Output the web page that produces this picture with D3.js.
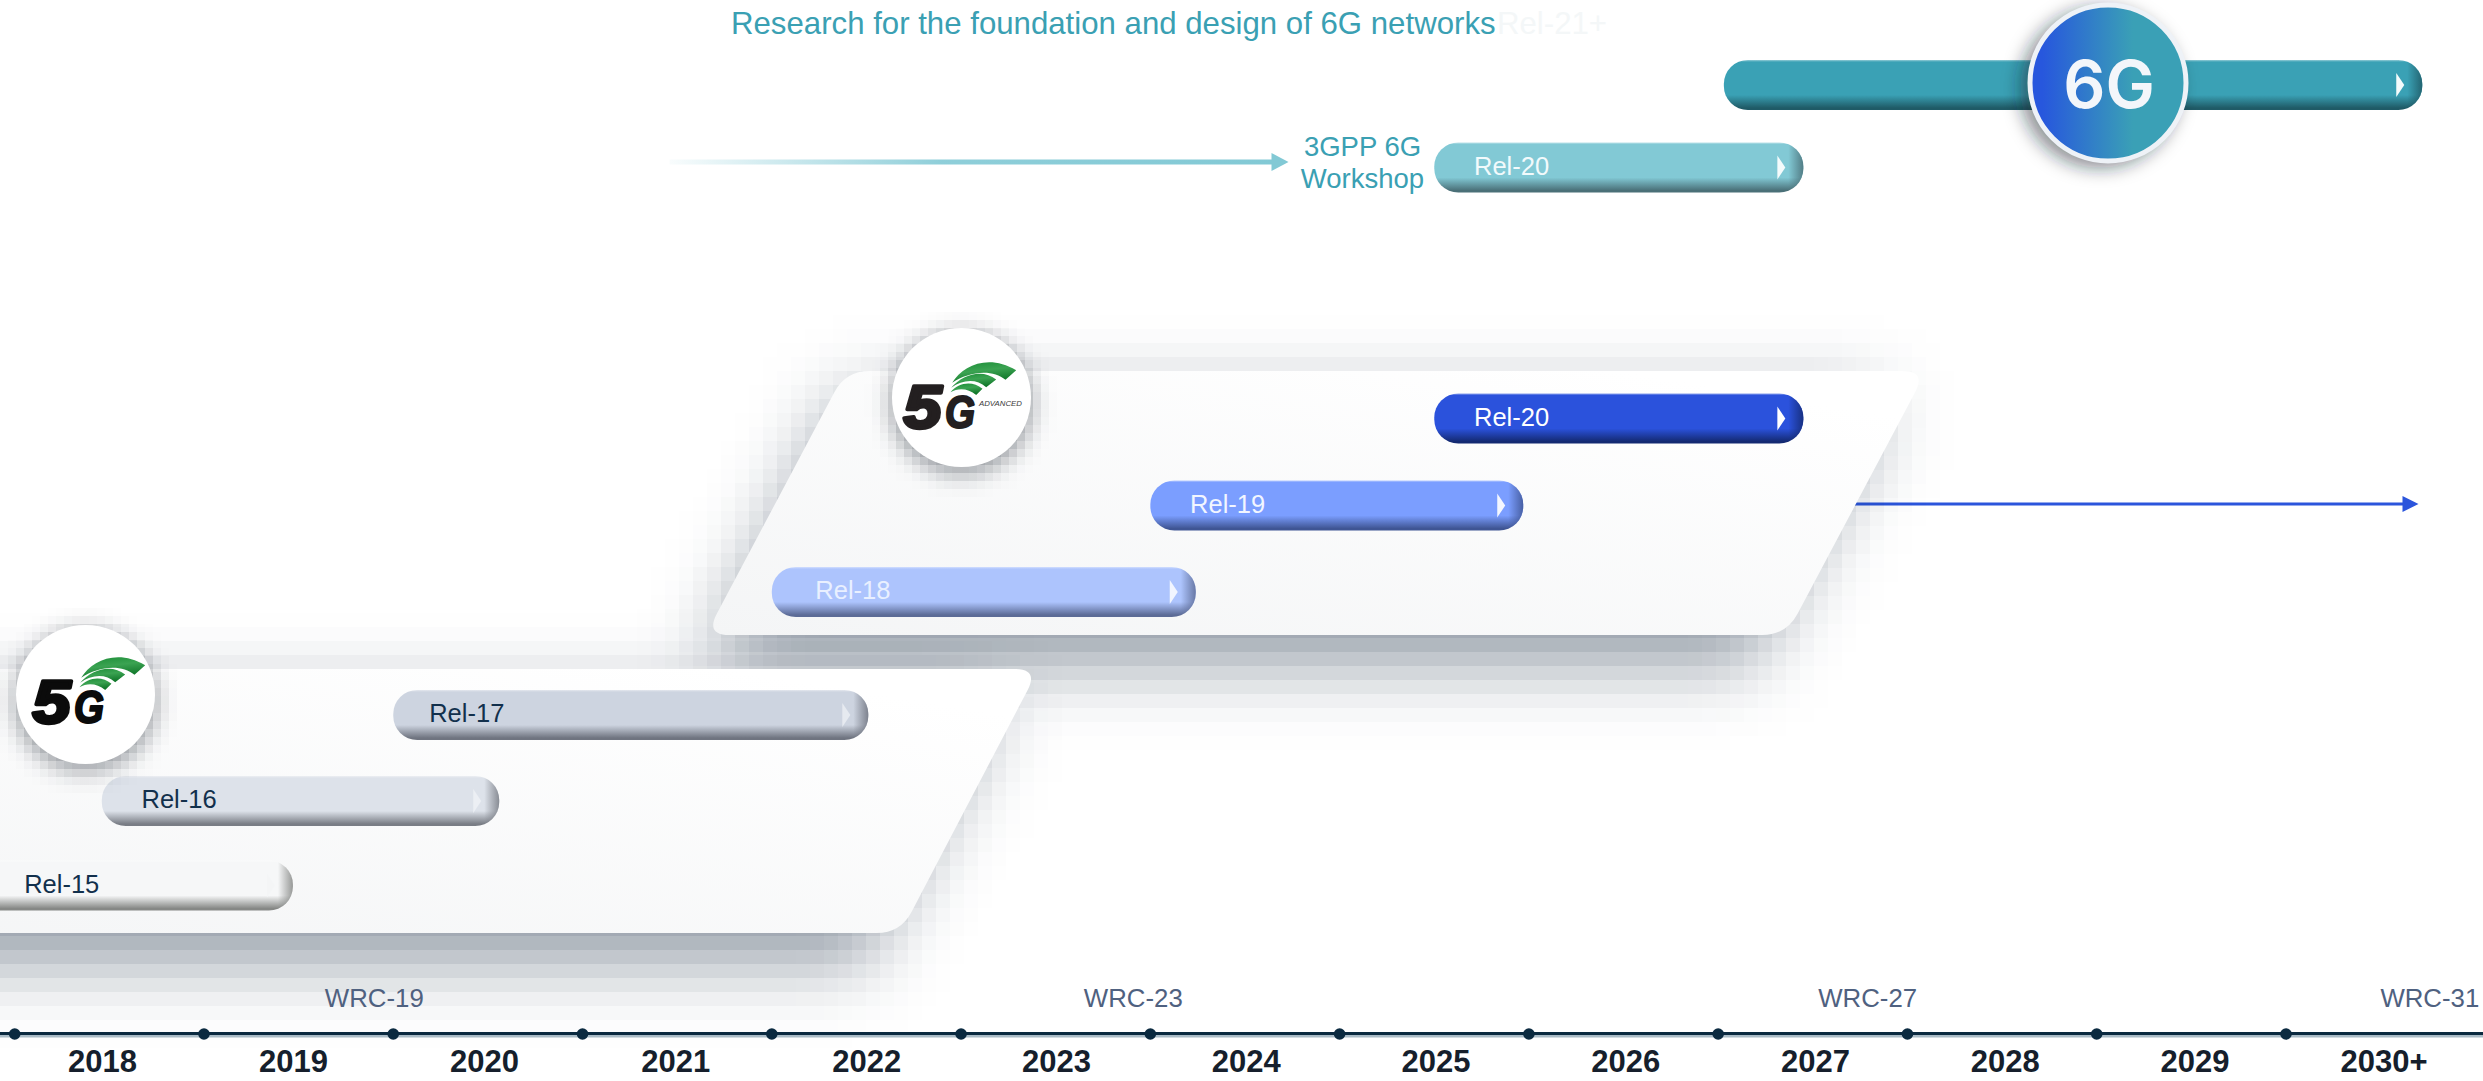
<!DOCTYPE html>
<html>
<head>
<meta charset="utf-8">
<script src="https://cdn.jsdelivr.net/npm/d3@7"></script>
<style>
  html, body { margin: 0; padding: 0; background: #fff; overflow: hidden; }
  svg { display: block; font-family: "Liberation Sans", Arial, sans-serif; }
</style>
</head>
<body>
<div id="chart"></div>
<script>
// years on the axis
const years = ["2018", "2019", "2020", "2021", "2022", "2023", "2024", "2025", "2026", "2027", "2028", "2029", "2030+"];
const boundaries = [2018, 2019, 2020, 2021, 2022, 2023, 2024, 2025, 2026, 2027, 2028, 2029, 2030];

// release bars (fractions of a year)
const barKeys = ["6g", "rel20t", "rel20", "rel19", "rel18", "rel17", "rel16", "rel15"];
const barLabels = ["", "Rel-20", "Rel-20", "Rel-19", "Rel-18", "Rel-17", "Rel-16", "Rel-15"];
const barStart = [2027.03, 2025.5, 2025.5, 2024.0, 2022.0, 2020.0, 2018.46, 2017.7];
const barEnd = [2030.72, 2027.45, 2027.45, 2025.97, 2024.24, 2022.51, 2020.56, 2019.47];
const barLabelAt = [2027.2, 2025.71, 2025.71, 2024.21, 2022.23, 2020.19, 2018.67, 2018.05];

const wrcLabels = ["WRC-19", "WRC-23", "WRC-27", "WRC-31"];
const wrcAt = [2019.9, 2023.91, 2027.79, 2030.76];

// panels behind the 5G bars: top-left, top-right, bottom-right, bottom-left
const panelAdvanced = [2022.39, 2028.1, 2027.36, 2021.65];
const panel5g = [2016.87, 2023.41, 2022.68, 2016.87];
// the shadows stop short of the panels' right edge
const shadowAdvanced = [2022.39, 2027.9, 2027.16, 2021.65];
const shadow5g = [2016.87, 2023.21, 2022.48, 2016.87];

const workshopArrow = [2021.46, 2024.73];
const advancedArrow = [2026.5, 2030.7];

const width = 2483, height = 1081;

const x = d3.scaleLinear().domain([2018, 2030]).range([14.7, 2286]);
// the year labels are not evenly spaced in the reference
const yearX = d3.scaleLinear().domain([0, 4, 11, 12]).range([102.5, 866.7, 2195, 2384]);
const rowY = d3.scaleOrdinal().domain(barKeys).range([85, 167.5, 418.5, 505.5, 592, 715, 801, 885.5]);

const barFill = d3.scaleOrdinal().domain(barKeys)
  .range(["#3aa1b5", "#82c9d5", "#2b52dc", "#7b9eff", "#adc4fd", "#cdd4e0", "#dde2ea", "#f6f7f8"]);
const barShade = d3.scaleOrdinal().domain(barKeys)
  .range(["#1f5a66", "#4a7078", "#142a72", "#3f5594", "#5c6b96", "#6f7480", "#797d85", "#868886"]);
const textFill = d3.scaleOrdinal().domain(barKeys)
  .range(["#fff", "#f2fafc", "#fff", "#f2f6ff", "#e9f0ff", "#12304c", "#12304c", "#12304c"]);
const chevronFill = d3.scaleOrdinal().domain(barKeys)
  .range(["#f4fbfc", "#f4fbfc", "#fff", "#f4f7ff", "#f1f5ff", "#e6eaf0", "#eceff4", "#f4f5f6"]);

const barH = 50;

const svg = d3.select("#chart").append("svg")
  .attr("width", width)
  .attr("height", height)
  .attr("viewBox", [0, 0, width, height]);
const defs = svg.append("defs");

// blurred shadow sampled on a coarse grid, the reference has blocky shadows
function pixelFilter(id, blur, step, ox, oy) {
  const f = defs.append("filter").attr("id", id)
    .attr("filterUnits", "userSpaceOnUse")
    .attr("primitiveUnits", "userSpaceOnUse")
    .attr("color-interpolation-filters", "sRGB")
    .attr("x", ox).attr("y", oy)
    .attr("width", width + step * 2).attr("height", height + step * 2);
  f.append("feGaussianBlur").attr("in", "SourceGraphic").attr("stdDeviation", blur).attr("result", "b");
  f.append("feFlood").attr("x", ox + Math.floor(step / 2)).attr("y", oy + Math.floor(step / 2))
    .attr("width", 1).attr("height", 1).attr("flood-color", "#000");
  f.append("feComposite").attr("x", ox).attr("y", oy).attr("width", step).attr("height", step);
  f.append("feTile").attr("x", ox).attr("y", oy).attr("width", width + step * 2).attr("height", height + step * 2).attr("result", "t");
  f.append("feComposite").attr("in", "b").attr("in2", "t").attr("operator", "in");
  f.append("feMorphology").attr("operator", "dilate").attr("radius", Math.floor(step / 2));
}
pixelFilter("pix5g", 36, 14, -3, -3);
pixelFilter("pixAdv", 36, 14, -7, -7);
pixelFilter("pixLogo", 11, 8, 0, 0);

const soft = defs.append("filter").attr("id", "soft6g")
  .attr("x", "-40%").attr("y", "-40%").attr("width", "180%").attr("height", "180%");
soft.append("feGaussianBlur").attr("stdDeviation", 9);

const panelFill = defs.append("linearGradient").attr("id", "panelFill")
  .attr("x1", 0).attr("y1", 1).attr("x2", 0.75).attr("y2", 0);
panelFill.append("stop").attr("offset", 0).attr("stop-color", "#f4f5f6");
panelFill.append("stop").attr("offset", 1).attr("stop-color", "#fff");

const fadeArrow = defs.append("linearGradient").attr("id", "fadeArrow");
fadeArrow.append("stop").attr("offset", 0).attr("stop-color", "#82c9d5").attr("stop-opacity", 0.05);
fadeArrow.append("stop").attr("offset", 0.45).attr("stop-color", "#82c9d5").attr("stop-opacity", 0.9);
fadeArrow.append("stop").attr("offset", 1).attr("stop-color", "#82c9d5");

const badge = defs.append("linearGradient").attr("id", "badge6g");
badge.append("stop").attr("offset", 0.08).attr("stop-color", "#2757dd");
badge.append("stop").attr("offset", 0.66).attr("stop-color", "#3aa0b6");

const wingFill = defs.append("linearGradient").attr("id", "wing")
  .attr("x1", 0).attr("y1", 0).attr("x2", 0.35).attr("y2", 1);
wingFill.append("stop").attr("offset", 0).attr("stop-color", "#1a8c36");
wingFill.append("stop").attr("offset", 0.5).attr("stop-color", "#3ba352");
wingFill.append("stop").attr("offset", 1).attr("stop-color", "#12782b");

// parallelogram with rounded corners
function panelPath(xs, top, bottom, r) {
  const pts = [[x(xs[0]), top], [x(xs[1]), top], [x(xs[2]), bottom], [x(xs[3]), bottom]];
  let d = "";
  pts.forEach((p, i) => {
    const prev = pts[(i + 3) % 4], next = pts[(i + 1) % 4];
    const a = Math.hypot(prev[0] - p[0], prev[1] - p[1]);
    const b = Math.hypot(next[0] - p[0], next[1] - p[1]);
    const p1 = [p[0] + (prev[0] - p[0]) * r / a, p[1] + (prev[1] - p[1]) * r / a];
    const p2 = [p[0] + (next[0] - p[0]) * r / b, p[1] + (next[1] - p[1]) * r / b];
    d += (i === 0 ? "M" : "L") + p1[0] + "," + p1[1] + "Q" + p[0] + "," + p[1] + " " + p2[0] + "," + p2[1];
  });
  return d + "Z";
}

// arrow lines go under the panel
const advY = rowY("rel19") - 1.5;
svg.append("rect")
  .attr("x", x(advancedArrow[0])).attr("y", advY - 1.5)
  .attr("width", x(advancedArrow[1]) - x(advancedArrow[0]) - 12).attr("height", 3)
  .attr("fill", "#2b55dc");
svg.append("path")
  .attr("d", d3.line()([[x(advancedArrow[1]) - 16, advY - 8], [x(advancedArrow[1]), advY], [x(advancedArrow[1]) - 16, advY + 8]]) + "Z")
  .attr("fill", "#2b55dc");

const wsY = rowY("rel20t") - 5.5;
svg.append("rect")
  .attr("x", x(workshopArrow[0])).attr("y", wsY - 2.5)
  .attr("width", x(workshopArrow[1]) - x(workshopArrow[0]) - 15).attr("height", 5)
  .attr("fill", "url(#fadeArrow)");
svg.append("path")
  .attr("d", d3.line()([[x(workshopArrow[1]) - 17, wsY - 9], [x(workshopArrow[1]), wsY], [x(workshopArrow[1]) - 17, wsY + 9]]) + "Z")
  .attr("fill", "#82c9d5");

// shadows then panels
const shadowDy = 28;
svg.append("g").attr("filter", "url(#pix5g)")
  .append("path").attr("d", panelPath(shadow5g, 669 + shadowDy, 933 + shadowDy, 0))
  .attr("fill", "#0a1f37").attr("fill-opacity", 0.46);
svg.append("g").attr("filter", "url(#pixAdv)")
  .append("path").attr("d", panelPath(shadowAdvanced, 371 + shadowDy, 635 + shadowDy, 0))
  .attr("fill", "#0a1f37").attr("fill-opacity", 0.46);
svg.append("path").attr("d", panelPath(panelAdvanced, 371, 635, 24)).attr("fill", "url(#panelFill)");
svg.append("path").attr("d", panelPath(panel5g, 669, 933, 24)).attr("fill", "url(#panelFill)");

// bars
const bars = barKeys.map((k, i) => ({ key: k, label: barLabels[i], start: barStart[i], end: barEnd[i], labelAt: barLabelAt[i] }));

bars.forEach(d => {
  const v = defs.append("linearGradient").attr("id", "v-" + d.key)
    .attr("x1", 0).attr("y1", 0).attr("x2", 0).attr("y2", 1);
  v.append("stop").attr("offset", 0).attr("stop-color", d3.interpolateRgb(barFill(d.key), "#fff")(0.45));
  v.append("stop").attr("offset", 0.04).attr("stop-color", barFill(d.key));
  v.append("stop").attr("offset", 0.7).attr("stop-color", barFill(d.key));
  v.append("stop").attr("offset", 0.96).attr("stop-color", barShade(d.key));
  const w = x(d.end) - x(d.start);
  const h = defs.append("linearGradient").attr("id", "h-" + d.key);
  h.append("stop").attr("offset", 1 - 15 / w).attr("stop-color", barShade(d.key)).attr("stop-opacity", 0);
  h.append("stop").attr("offset", 1).attr("stop-color", barShade(d.key)).attr("stop-opacity", 0.85);
});

const barG = svg.append("g").selectAll("g").data(bars).join("g");
barG.append("rect")
  .attr("x", d => x(d.start))
  .attr("y", d => rowY(d.key) - barH / 2)
  .attr("width", d => x(d.end) - x(d.start))
  .attr("height", barH).attr("rx", 24).attr("ry", 24)
  .attr("fill", d => `url(#v-${d.key})`);
barG.append("rect")
  .attr("x", d => x(d.start))
  .attr("y", d => rowY(d.key) - barH / 2)
  .attr("width", d => x(d.end) - x(d.start))
  .attr("height", barH).attr("rx", 24).attr("ry", 24)
  .attr("fill", d => `url(#h-${d.key})`);
barG.append("path")
  .attr("d", d => {
    const e = x(d.end), c = rowY(d.key);
    return d3.line()([[e - 26, c - 12], [e - 18, c], [e - 26, c + 12]]) + "Z";
  })
  .attr("fill", d => chevronFill(d.key));
barG.append("text")
  .attr("x", d => x(d.labelAt))
  .attr("y", d => rowY(d.key) + 7)
  .attr("font-size", 25.5)
  .attr("fill", d => textFill(d.key))
  .text(d => d.label);

// 5G logos, drawn around the circle centre
function logo(cx, cy, advanced) {
  const g = svg.append("g");
  g.append("g").attr("filter", "url(#pixLogo)")
    .append("circle").attr("cx", cx).attr("cy", cy + 6).attr("r", 70)
    .attr("fill", "#0a1420").attr("fill-opacity", 0.42);
  g.append("circle").attr("cx", cx).attr("cy", cy).attr("r", 69.5).attr("fill", "#fff");
  const m = g.append("g").attr("transform", `translate(${cx + (advanced ? -5 : 0)},${cy + (advanced ? 2 : 0)})`);
  const ink = advanced ? "#231f20" : "#0b0b0b";
  m.append("text").attr("x", -53).attr("y", 28.5)
    .attr("font-size", 62).attr("font-weight", 700).attr("font-style", "italic")
    .attr("textLength", 38).attr("lengthAdjust", "spacingAndGlyphs")
    .attr("fill", ink).attr("stroke", ink).attr("stroke-width", 3.6).attr("stroke-linejoin", "round")
    .text("5");
  m.append("text").attr("x", -11.5).attr("y", 28.5)
    .attr("font-size", 46).attr("font-weight", 700).attr("font-style", "italic")
    .attr("textLength", 30).attr("lengthAdjust", "spacingAndGlyphs")
    .attr("fill", ink).attr("stroke", ink).attr("stroke-width", 2.2).attr("stroke-linejoin", "round")
    .text("G");
  const wings = [
    "M-4.3,-16.7C6,-34 32,-46 59.7,-29.3L49,-19.7C36,-31 12,-28 -4.3,-16.7Z",
    "M-5.3,-11.7C6,-25 26,-31 39.7,-20L29.7,-12.3C20,-21 6,-20 -5.3,-11.7Z",
    "M-6,-7.3C2,-17 16,-19 26,-10.7L19.7,-4.5C12,-11 2,-12 -6,-7.3Z"
  ];
  m.selectAll("path").data(wings).join("path")
    .attr("d", d => d)
    .attr("fill", "url(#wing)");
  if (advanced) {
    m.append("text").attr("x", 22.5).attr("y", 6.5)
      .attr("font-size", 7.8).attr("font-style", "italic").attr("fill", "#3a3a3a")
      .text("ADVANCED");
  }
}
logo(961.5, 397.5, true);
logo(85.5, 694.5, false);

// 6G badge
svg.append("circle").attr("cx", 2100).attr("cy", 88).attr("r", 80)
  .attr("fill", "#10202c").attr("fill-opacity", 0.5).attr("filter", "url(#soft6g)");
svg.append("circle").attr("cx", 2108).attr("cy", 83).attr("r", 78)
  .attr("fill", "url(#badge6g)").attr("stroke", "#eef2f7").attr("stroke-width", 5);
svg.append("text").attr("x", 2109).attr("y", 108)
  .attr("text-anchor", "middle")
  .attr("font-family", "Inter").attr("font-weight", 600).attr("font-size", 66)
  .attr("fill", "#f3f6fa").text("6G");

// top texts
svg.append("text").attr("x", 731).attr("y", 34)
  .attr("font-size", 31.2).attr("fill", "#3aa0b3")
  .text("Research for the foundation and design of 6G networks");
svg.append("text").attr("x", 1497).attr("y", 34)
  .attr("font-size", 31.2).attr("fill", "#f4f7f8")
  .text("Rel-21+");
svg.append("text").attr("x", 1362.5).attr("y", 156)
  .attr("text-anchor", "middle").attr("font-size", 27.5).attr("fill", "#3aa0b3").text("3GPP 6G");
svg.append("text").attr("x", 1362.5).attr("y", 188)
  .attr("text-anchor", "middle").attr("font-size", 27.5).attr("fill", "#3aa0b3").text("Workshop");

// time axis
svg.append("rect").attr("x", 0).attr("y", 1035).attr("width", width).attr("height", 2.5).attr("fill", "#a9bbc6");
svg.append("rect").attr("x", 0).attr("y", 1032).attr("width", width).attr("height", 3).attr("fill", "#0b2a40");
svg.append("g").selectAll("circle").data(boundaries).join("circle")
  .attr("cx", d => x(d)).attr("cy", 1034).attr("r", 5.8).attr("fill", "#0b2a40");
svg.append("g").selectAll("text").data(years).join("text")
  .attr("x", (d, i) => yearX(i)).attr("y", 1072)
  .attr("text-anchor", "middle")
  .attr("font-size", 31).attr("font-weight", 700).attr("fill", "#161f2c")
  .text(d => d);
svg.append("g").selectAll("text").data(wrcLabels).join("text")
  .attr("x", (d, i) => x(wrcAt[i])).attr("y", 1007)
  .attr("text-anchor", "middle")
  .attr("font-size", 25.8).attr("fill", "#4f6180")
  .text(d => d);
</script>
</body>
</html>
